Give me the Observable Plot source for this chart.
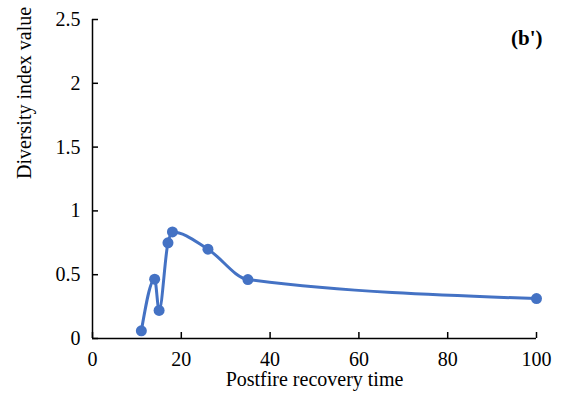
<!DOCTYPE html>
<html>
<head>
<meta charset="utf-8">
<script src="https://cdn.jsdelivr.net/npm/d3@7"></script>
<script src="https://cdn.jsdelivr.net/npm/@observablehq/plot@0.6"></script>
<style>
  html, body { margin: 0; padding: 0; background: #fff; }
  #chart svg { display: block; }
  #chart svg text { font-family: "Times New Roman" !important; }
</style>
</head>
<body>
<div id="chart"></div>
<script>
const years = [11, 14, 15, 17, 18, 26, 35, 100];
const diversity = [0.06, 0.465, 0.22, 0.75, 0.835, 0.70, 0.462, 0.313];
const xTicks = [0, 20, 40, 60, 80, 100];
const yTicks = [0, 0.5, 1, 1.5, 2, 2.5];
const xTitle = "Postfire recovery time";
const yTitle = "Diversity index value";
const panelLabel = "(b')";

const data = years.map((t, i) => ({t, v: diversity[i]}));
const blue = "#4472C4";
const serif = "Times New Roman";

const chart = Plot.plot({
  width: 561,
  height: 404,
  marginLeft: 92,
  marginRight: 25,
  marginTop: 19,
  marginBottom: 66,
  style: {fontSize: "20px", color: "#000", background: "#fff"},
  x: {domain: [0, 100]},
  y: {domain: [0, 2.5]},
  marks: [
    Plot.axisX({ticks: xTicks, tickSize: -6, tickPadding: 19, tickFormat: d => String(d), label: null, strokeWidth: 1.5, fontSize: 20, fontFamily: serif}),
    Plot.axisY({ticks: yTicks, tickSize: -6, tickPadding: 18, tickFormat: d => String(d), label: null, strokeWidth: 1.5, fontSize: 20, fontFamily: serif}),
    Plot.ruleX([0], {stroke: "#000", strokeWidth: 1.5}),
    Plot.ruleY([0], {stroke: "#000", strokeWidth: 1.5}),
    Plot.line(data, {x: "t", y: "v", stroke: blue, strokeWidth: 3, curve: "monotone-x"}),
    Plot.dot(data, {x: "t", y: "v", fill: blue, r: 5.5}),
    Plot.text([xTitle], {frameAnchor: "bottom", dy: 47, fontSize: 20, fontFamily: serif}),
    Plot.text([yTitle], {frameAnchor: "left", dx: -68, rotate: -90, fontSize: 20, fontFamily: serif}),
    Plot.text([panelLabel], {frameAnchor: "top-right", dx: 6, dy: 11, textAnchor: "end", fontSize: 21, fontWeight: "bold", fontFamily: serif})
  ]
});
document.getElementById("chart").appendChild(chart);
</script>
</body>
</html>
